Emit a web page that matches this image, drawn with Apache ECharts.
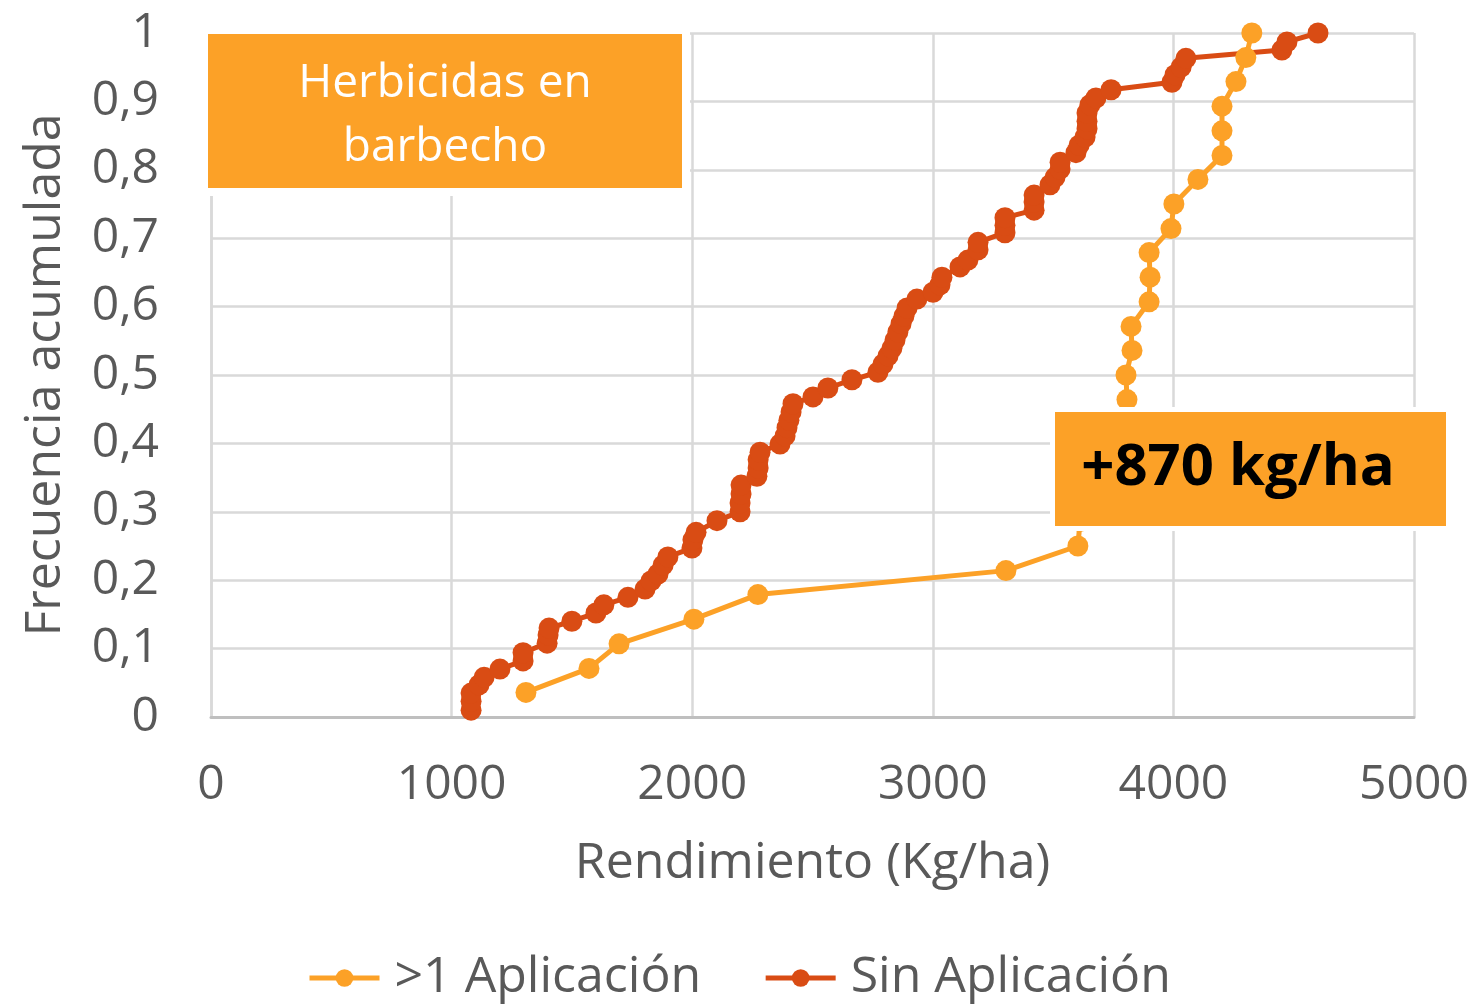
<!DOCTYPE html>
<html>
<head>
<meta charset="utf-8">
<script src="https://cdn.jsdelivr.net/npm/echarts@6/dist/echarts.min.js"></script>
<style>
  html, body { margin: 0; padding: 0; background: #fff; }
  #main { width: 1476px; height: 1005px; }
</style>
</head>
<body>
<div id="main"></div>
<script>
var orangeColor = '#FCA127';
var redColor = '#D94C14';
var textColor = '#595959';

// >1 Aplicación
var aplicX = [1309, 1571, 1696, 2007, 2273, 3304, 3603, 3612, 3657, 3699, 3745, 3786, 3807, 3803,
              3828, 3824, 3899, 3903, 3899, 3990, 4002, 4102, 4202, 4202, 4202, 4260, 4301, 4326];
var aplicY = [0.036, 0.071, 0.107, 0.143, 0.179, 0.214, 0.25, 0.286, 0.321, 0.357, 0.393, 0.429, 0.464, 0.5,
              0.536, 0.571, 0.607, 0.643, 0.679, 0.714, 0.75, 0.786, 0.821, 0.857, 0.893, 0.929, 0.964, 1];

// Sin Aplicación
var sinX = [1081, 1081, 1081, 1114, 1135, 1201, 1297, 1297, 1397, 1401, 1405, 1500, 1600, 1633, 1733,
            1804, 1829, 1858, 1879, 1899, 1999, 2003, 2016, 2103, 2199, 2199, 2203, 2203, 2269, 2274,
            2274, 2282, 2365, 2386, 2394, 2402, 2411, 2419, 2502, 2564, 2664, 2772, 2793, 2814, 2830,
            2843, 2855, 2868, 2880, 2893, 2934, 3001, 3030, 3038, 3113, 3146, 3188, 3188, 3300, 3300,
            3300, 3421, 3421, 3421, 3487, 3508, 3529, 3529, 3595, 3608, 3633, 3641, 3641, 3641, 3653,
            3678, 3741, 3994, 4007, 4032, 4052, 4451, 4472, 4601];
var sinY = [0.010, 0.023, 0.035, 0.047, 0.058, 0.070, 0.082, 0.094, 0.108, 0.120, 0.130, 0.140, 0.152, 0.164, 0.175,
            0.187, 0.199, 0.209, 0.222, 0.234, 0.247, 0.259, 0.270, 0.287, 0.300, 0.313, 0.326, 0.339, 0.352, 0.364,
            0.376, 0.387, 0.399, 0.411, 0.423, 0.434, 0.446, 0.458, 0.468, 0.481, 0.493, 0.504, 0.516, 0.528, 0.539,
            0.551, 0.563, 0.575, 0.586, 0.598, 0.611, 0.621, 0.632, 0.643, 0.658, 0.668, 0.683, 0.694, 0.708, 0.719,
            0.730, 0.741, 0.753, 0.763, 0.778, 0.789, 0.801, 0.811, 0.825, 0.836, 0.848, 0.860, 0.871, 0.883, 0.895,
            0.905, 0.917, 0.928, 0.939, 0.950, 0.963, 0.975, 0.987, 1.000];

var seriesNames = ['>1 Aplicación', 'Sin Aplicación'];
var boxTitle = 'Herbicidas en\nbarbecho';
var boxDiff = '+870 kg/ha';

function pairs(xs, ys) {
    var out = [];
    for (var i = 0; i < xs.length; i++) {
        out.push([xs[i], ys[i]]);
    }
    return out;
}

var font = '"Open Sans", "Noto Sans", sans-serif';
var myChart = echarts.init(document.getElementById('main'));

var option = {
    backgroundColor: '#fff',
    animation: false,
    textStyle: { fontFamily: font },
    grid: { left: 211, right: 62, top: 33, bottom: 288, containLabel: false },
    legend: {
        left: 302,
        top: 948,
        itemWidth: 70,
        itemHeight: 22,
        itemGap: 62,
        lineStyle: { width: 5 },
        textStyle: { fontSize: 50, color: textColor, fontFamily: font, padding: [0, 0, 0, 10] },
        data: seriesNames
    },
    xAxis: {
        type: 'value',
        min: 0,
        max: 5000,
        interval: 1000,
        name: 'Rendimiento (Kg/ha)',
        nameLocation: 'middle',
        nameGap: 122,
        nameTextStyle: { fontSize: 50, color: textColor },
        axisLine: { show: true, lineStyle: { color: '#BFBFBF', width: 3 } },
        axisTick: { show: false },
        axisLabel: {
            fontSize: 48,
            color: textColor,
            margin: 44,
            formatter: function (v) { return String(v); }
        },
        splitLine: { show: true, lineStyle: { color: '#D9D9D9', width: 2.5 } }
    },
    yAxis: {
        type: 'value',
        min: 0,
        max: 1,
        interval: 0.1,
        name: 'Frecuencia acumulada',
        nameLocation: 'middle',
        nameGap: 140,
        nameTextStyle: { fontSize: 50, color: textColor },
        axisLine: { show: true, lineStyle: { color: '#D9D9D9', width: 2.5 } },
        axisTick: { show: false },
        axisLabel: {
            fontSize: 48,
            color: textColor,
            margin: 52,
            formatter: function (v) {
                return String(Math.round(v * 10) / 10).replace('.', ',');
            }
        },
        splitLine: { show: true, lineStyle: { color: '#D9D9D9', width: 2.5 } }
    },
    series: [
        {
            name: seriesNames[0],
            type: 'line',
            data: pairs(aplicX, aplicY),
            symbol: 'circle',
            symbolSize: 21,
            clip: false,
            color: orangeColor,
            lineStyle: { width: 5, color: orangeColor },
            itemStyle: { color: orangeColor }
        },
        {
            name: seriesNames[1],
            type: 'line',
            data: pairs(sinX, sinY),
            symbol: 'circle',
            symbolSize: 21,
            clip: false,
            color: redColor,
            lineStyle: { width: 5, color: redColor },
            itemStyle: { color: redColor }
        }
    ],
    graphic: [
        {
            type: 'rect',
            z: 100,
            shape: { x: 204, y: 30, width: 482, height: 162 },
            style: { fill: orangeColor, stroke: '#fff', lineWidth: 8 }
        },
        {
            type: 'text',
            z: 101,
            x: 445,
            y: 116,
            style: {
                text: boxTitle,
                fill: '#fff',
                font: '46px ' + font,
                lineHeight: 64,
                align: 'center',
                verticalAlign: 'middle'
            }
        },
        {
            type: 'rect',
            z: 100,
            shape: { x: 1052.5, y: 409.5, width: 396, height: 119 },
            style: { fill: orangeColor, stroke: '#fff', lineWidth: 5 }
        },
        {
            type: 'text',
            z: 101,
            x: 1238,
            y: 468,
            style: {
                text: boxDiff,
                fill: '#000',
                font: 'bold 58px ' + font,
                align: 'center',
                verticalAlign: 'middle'
            }
        }
    ]
};

myChart.setOption(option);
</script>
</body>
</html>
